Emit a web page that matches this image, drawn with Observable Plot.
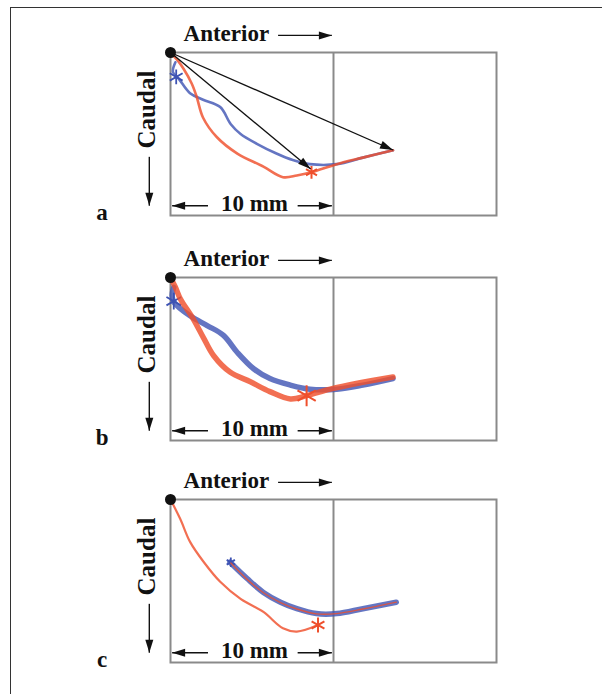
<!DOCTYPE html>
<html><head><meta charset="utf-8">
<script src="https://cdn.jsdelivr.net/npm/d3@7"></script>
<script src="https://cdn.jsdelivr.net/npm/@observablehq/plot@0.6"></script>
<style>
body{margin:0;background:#fff;}
#wrap{position:relative;width:602px;height:694px;overflow:hidden;background:#fff;}
#border{position:absolute;left:10px;top:7px;width:800px;height:900px;border-left:1.5px solid #333;border-top:1.5px solid #333;}
#wrap svg{position:absolute;left:0;background:transparent;}
</style></head><body><div id="wrap"><div id="border"></div></div>
<script>
// ---- data (mm; x = anterior, y = caudal) ----
const panelLabels = ["a", "b", "c"];
const redTraces = [
  [[0,0],[0.45,0.5],[0.8,1.0],[1.3,1.9],[1.6,2.7],[2.0,4.0],[2.85,5.2],[4.1,6.2],[5.7,7.0],[6.9,7.65],[7.75,7.55],[8.65,7.35],[10.2,6.85],[11.8,6.45],[13.65,6.0]],
  [[0,0],[0.3,0.6],[0.6,1.3],[1.4,2.55],[2.05,3.75],[2.65,4.8],[3.65,5.8],[4.9,6.4],[6.1,7.0],[7.35,7.45],[8.35,7.25],[9.8,6.85],[11.4,6.5],[13.65,6.1]],
  [[0,0],[0.6,1.2],[1.2,2.6],[2.05,3.85],[3.05,5.05],[4.3,6.1],[5.7,6.9],[6.9,7.9],[7.75,8.1],[9.05,7.7]]
];
const blueTraces = [
  [[0.3,0.6],[0.15,1.2],[0.5,1.6],[1.2,2.5],[2.0,2.9],[3.05,3.35],[3.7,4.4],[4.3,5.0],[5.3,5.6],[6.5,6.2],[7.5,6.6],[8.55,6.85],[10.2,6.85],[11.8,6.45],[13.65,6.0]],
  [[0.2,0.6],[0.1,1.1],[0.2,1.5],[1.2,2.35],[2.25,2.95],[3.25,3.55],[4.1,4.6],[5.1,5.6],[6.1,6.2],[7.35,6.6],[8.55,6.85],[10.2,6.85],[11.8,6.6],[13.65,6.2]],
  [[3.65,3.85],[4.7,4.85],[5.7,5.7],[6.75,6.3],[7.75,6.7],[8.95,7.0],[10.2,7.0],[11.8,6.7],[13.85,6.3]]
];
const redOverlapC = [[3.7,3.9],[4.7,4.9],[5.7,5.72],[6.75,6.32],[7.75,6.72],[8.95,7.02],[10.2,7.0],[11.8,6.72],[13.85,6.3]];
const redStarX = [8.65, 8.35, 9.05];
const redStarY = [7.35, 7.25, 7.7];
const blueStarX = [0.35, 0.2, 3.7];
const blueStarY = [1.5, 1.45, 3.85];
const pointerTargetsA = [[8.6, 7.15], [13.65, 5.98]];
const scaleBarMm = 10;
const boxWidthMm = 20, boxHeightMm = 10;
const labelAnterior = "Anterior", labelCaudal = "Caudal", labelScale = "10 mm";

// ---- drawing ----
const RED = "#ef4f2c", BLUE = "#3d52b3", INK = "#111";
const headSymbol = {draw(ctx) { ctx.moveTo(0, 0); ctx.lineTo(-4, 13); ctx.lineTo(4, 13); ctx.closePath(); }};
function arrowMarks(list, sw = 1.4) {
  return [
    Plot.link(list, {x1: "x1", y1: "y1", x2: "x2", y2: "y2", stroke: INK, strokeWidth: sw}),
    Plot.dot(list, {x: "x2", y: "y2", symbol: headSymbol, fill: INK, stroke: "none", r: 5,
      rotate: d => Math.atan2(d.x2 - d.x1, -(d.y2 - d.y1)) * 180 / Math.PI})
  ];
}
const toPts = arr => arr.map(([x, y]) => ({x, y}));
const widths = [
  {red: 2.6, blue: 2.6, star: 6, bstar: 7},
  {red: 5.5, blue: 5.5, star: 10, bstar: 8},
  {red: 2.2, blue: 5.5, star: 7, bstar: 4.5}
];
const tops = [0, 225, 447];
const font = {fontFamily: "Liberation Serif, DejaVu Serif, serif", fontSize: 23, fontWeight: "bold", fill: INK};

panelLabels.forEach((lab, i) => {
  const w = widths[i];
  const marks = [
    Plot.frame({stroke: "#8a8a8a", strokeWidth: 2}),
    Plot.ruleX([scaleBarMm], {stroke: "#8a8a8a", strokeWidth: 2}),
    Plot.line(toPts(blueTraces[i]), {x: "x", y: "y", curve: "catmull-rom", stroke: BLUE, strokeWidth: w.blue, strokeOpacity: 0.8, strokeLinejoin: "round"}),
    Plot.dot([{x: blueStarX[i], y: blueStarY[i]}], {x: "x", y: "y", symbol: "asterisk", stroke: BLUE, strokeWidth: 1.8, r: w.bstar}),
  ];
  if (i === 2) {
    marks.push(Plot.line(toPts(redOverlapC), {x: "x", y: "y", curve: "catmull-rom", stroke: RED, strokeWidth: 1.4, strokeOpacity: 0.8}));
  }
  marks.push(
    Plot.line(toPts(redTraces[i]), {x: "x", y: "y", curve: "catmull-rom", stroke: RED, strokeWidth: w.red, strokeOpacity: 0.82, strokeLinejoin: "round"}),
    Plot.dot([{x: redStarX[i], y: redStarY[i]}], {x: "x", y: "y", symbol: "asterisk", stroke: RED, strokeWidth: 2, r: w.star})
  );
  if (i === 0) {
    marks.push(...arrowMarks(pointerTargetsA.map(([x, y]) => ({x1: 0, y1: 0, x2: x, y2: y})), 1.3));
  }
  marks.push(
    Plot.dot([{x: 0, y: 0}], {x: "x", y: "y", r: 5.5, fill: INK}),
    // annotations
    ...arrowMarks([
      {x1: 6.6, y1: -1.05, x2: 9.9, y2: -1.05},
      {x1: -1.3, y1: 6.4, x2: -1.3, y2: 9.4},
      {x1: 2.3, y1: 9.4, x2: 0.1, y2: 9.4},
      {x1: 7.8, y1: 9.4, x2: scaleBarMm - 0.1, y2: 9.4}
    ]),
    Plot.text([labelAnterior], {x: 0.8, y: -1.15, text: d => d, textAnchor: "start", ...font}),
    Plot.text([labelCaudal], {x: -1.45, y: 3.5, text: d => d, rotate: -90, ...font, fontSize: 25}),
    Plot.text([labelScale], {x: 5.15, y: 9.25, text: d => d, ...font}),
    Plot.text([lab], {x: -4.2, y: 9.8, text: d => d, ...font})
  );
  const svg = Plot.plot({
    width: 602, height: 224,
    marginLeft: 170, marginRight: 106, marginTop: 52, marginBottom: 9,
    x: {domain: [0, boxWidthMm], axis: null},
    y: {domain: [0, boxHeightMm], reverse: true, axis: null},
    style: {overflow: "visible", background: "transparent"},
    marks
  });
  svg.style.top = tops[i] + "px";
  document.getElementById("wrap").appendChild(svg);
});
</script></body></html>
